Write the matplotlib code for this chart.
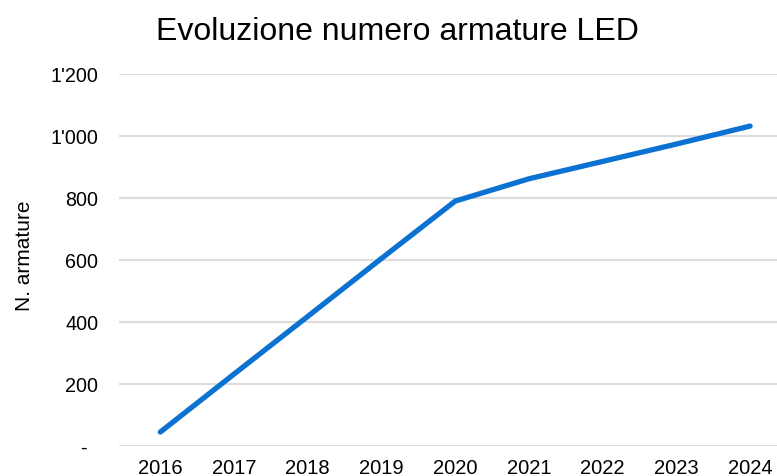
import matplotlib
matplotlib.use("Agg")
import matplotlib.pyplot as plt

years = [2016, 2017, 2018, 2019, 2020, 2021, 2022, 2023, 2024]
values = [45, 232, 418, 605, 790, 862, 918, 974, 1032]
yticks = [0, 200, 400, 600, 800, 1000, 1200]
ytick_labels = ["-  ", "200", "400", "600", "800", "1'000", "1'200"]

plt.rcParams['font.family'] = ['Liberation Sans', 'DejaVu Sans']

fig = plt.figure(figsize=(7.77, 4.77), dpi=100)
W, H = 777, 477
left, right, top, bottom = 119, 787, 75, 447
ax = fig.add_axes([left / W, 1 - bottom / H, (right - left) / W, (bottom - top) / H])

ax.plot(years, values, color="#0b72d2", linewidth=3.8, solid_capstyle="round",
        solid_joinstyle="round", zorder=3)

ax.set_xlim(2015.44, 2024.5)
ax.set_ylim(0, 1200)
ax.set_xticks(years)
ax.set_xticklabels([str(y) for y in years], fontsize=14.5)
ax.set_yticks(yticks)
ax.set_yticklabels(ytick_labels, fontsize=14.2)
ax.tick_params(length=0)
ax.tick_params(axis='x', pad=8.5)
ax.tick_params(axis='y', pad=15)
ax.grid(axis='y', color="#dcdcdc", linewidth=1.5)
ax.set_axisbelow(True)
for s in ax.spines.values():
    s.set_visible(False)

ax.set_ylabel("N. armature", fontsize=15)
ax.yaxis.set_label_coords(-85 / (right - left), (447 - 256) / (bottom - top))
fig.text(397 / W, 1 - 40 / H, "Evoluzione numero armature LED", fontsize=23,
         ha="center", va="baseline")

fig.savefig("out.png", dpi=100)
